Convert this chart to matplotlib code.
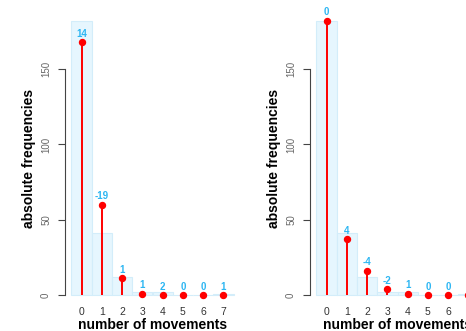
import numpy as np
import matplotlib.pyplot as plt

plt.rcParams['font.family'] = ['Liberation Sans', 'DejaVu Sans']

# observed counts per number of movements and two fitted models
moves = [0, 1, 2, 3, 4, 5, 6, 7]
observed = [182, 41, 12, 2, 2, 0, 0, 1]
expected_a = [168, 60, 11, 1, 0, 0, 0, 0]
expected_b = [182, 37, 16, 4, 1, 0, 0, 0]
yticks = [0, 50, 100, 150]

W, H = 466, 331
fig = plt.figure(figsize=(W / 100, H / 100), dpi=100)


def panel(left_px, expected):
    # plot region in pixels: width 175, from y=10 to y=306
    ax = fig.add_axes([left_px / W, (H - 306) / H, 175 / W, 296 / H])
    ax.bar(moves, observed, width=1.0, color='#E6F6FE', edgecolor='#D3EDFA', linewidth=0.8)
    ax.vlines(moves, 0, expected, color='#FF0000', linewidth=1.4)
    ax.plot(moves, expected, 'o', color='#FF0000', markersize=4.3)
    diff = np.rint(np.array(observed) - np.array(expected)).astype(int)
    for x, e, d in zip(moves, expected, diff):
        ax.annotate(str(d), (x, e), xytext=(0, 2.5), textcoords='offset points',
                    ha='center', va='bottom', fontsize=7, fontweight='bold', color='#2DB6F2')
    top = max(max(observed), max(expected))
    ax.set_xlim(-0.5 - 0.04 * 8, 7.5 + 0.04 * 8)
    ax.set_ylim(-0.04 * top, top * 1.04)
    for s in ['top', 'right', 'bottom']:
        ax.spines[s].set_visible(False)
    ax.spines['left'].set_bounds(0, 150)
    ax.spines['left'].set_color('#444444')
    ax.set_yticks(yticks)
    ax.set_yticklabels([str(t) for t in yticks], rotation=90, va='center')
    ax.tick_params(axis='y', length=5, width=0.8, color='#444444', labelsize=7,
                   labelcolor='#666666', pad=5)
    ax.set_xticks(moves)
    ax.tick_params(axis='x', length=0, labelsize=7.5, labelcolor='#333333', pad=1)
    ax.set_xlabel('number of movements', fontsize=10, fontweight='bold', va='baseline')
    ax.xaxis.set_label_coords(0.5, -0.077)
    ax.set_ylabel('absolute frequencies', fontsize=10, fontweight='bold', va='center')
    ax.yaxis.set_label_coords(-0.205, 0.5)
    ax.patch.set_alpha(0)
    return ax


panel(65, expected_a)
panel(310, expected_b)

fig.savefig('out.png', dpi=100)
